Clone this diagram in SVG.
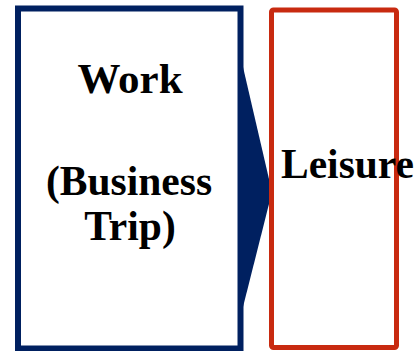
<svg xmlns="http://www.w3.org/2000/svg" width="416" height="351" viewBox="0 0 416 351">
<style>
.lbl{font-family:"Liberation Serif","Times New Roman",serif;font-weight:bold;font-size:41.5px;fill:#000}
</style>
<rect width="416" height="351" fill="#fff"/>
<g id="work">
<rect x="18" y="8.5" width="222.5" height="340" fill="#fff" stroke="#002060" stroke-width="6"/>
<text class="lbl" x="130" y="93" text-anchor="middle" style="font-size:43px">Work</text>
<text class="lbl" x="129" y="195" text-anchor="middle">(Business</text>
<text class="lbl" x="130" y="240" text-anchor="middle">Trip)</text>
</g>
<g id="connectors">
<polygon points="243,67 272,192 243,307" fill="#002060"/>
</g>
<g id="leisure">
<rect x="271.5" y="10" width="125" height="337.5" rx="2" fill="none" stroke="#C82A10" stroke-width="5"/>
<text class="lbl" x="281" y="178">Leisure</text>
</g>
</svg>
